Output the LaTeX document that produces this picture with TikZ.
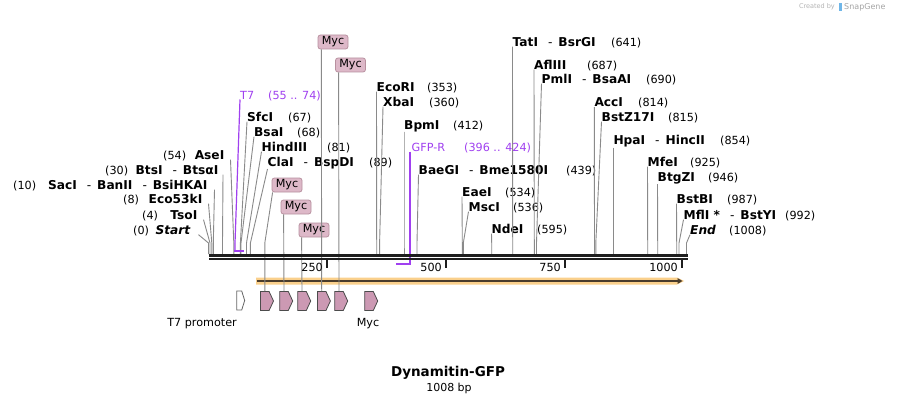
\documentclass[tikz,border=0pt]{standalone}
\usepackage{fontspec}
\setmainfont{DejaVu Sans}
\usetikzlibrary{shapes.symbols,arrows.meta}
\definecolor{cutgray}{HTML}{8A8A8A}
\definecolor{primerpurple}{HTML}{A040F0}
\definecolor{mycfill}{HTML}{CC99B3}
\definecolor{mycboxfill}{HTML}{DDB8C8}
\definecolor{mycboxline}{HTML}{B8909F}
\definecolor{orfband}{HTML}{FAD08C}
\definecolor{orfline}{HTML}{4A3C2C}
\definecolor{seqblack}{HTML}{1E1E1E}
\definecolor{wmgray}{HTML}{B4B4B4}
\definecolor{wmblue}{HTML}{6FB6E8}
\tikzset{
  enz/.style={inner sep=0pt, font=\fontsize{12.2}{14}\selectfont\bfseries},
  num/.style={inner sep=0pt, font=\fontsize{11.2}{13}\selectfont},
  cutline/.style={draw=cutgray, line width=0.9pt},
  primertext/.style={inner sep=0pt, text=primerpurple, font=\fontsize{11.2}{13}\selectfont},
  primerline/.style={draw=primerpurple, line width=1.2pt},
  primerbar/.style={draw=primerpurple, line width=2.5pt},
  mycbox/.style={draw=mycboxline, fill=mycboxfill, rounded corners=2.5pt, minimum width=30pt, minimum height=14pt, inner sep=0pt, font=\fontsize{11.2}{13}\selectfont, line width=0.8pt},
  featarrow/.style={shape=signal, signal to=east, signal pointer angle=130, minimum width=13pt, minimum height=19pt, inner sep=0pt, draw=black!70, line width=0.8pt, fill=mycfill},
  promarrow/.style={shape=signal, signal to=east, signal pointer angle=145, minimum width=8pt, minimum height=19pt, inner sep=0pt, draw=black!60, line width=0.8pt, fill=white},
  seqline/.style={draw=seqblack},
  tickline/.style={draw=seqblack, line width=2pt},
  featlabel/.style={inner sep=0pt, font=\fontsize{11.2}{13}\selectfont},
}
\newcommand\dsh{\hspace{10pt}{\mdseries -}\hspace{6pt}}
\newcommand\renz[7]{%
  \node[enz,anchor=base west] (n#1) at (#2,#3) {#4};
  \node[num,anchor=base west] (m#1) at (#5,#3) {#6};
  \coordinate (k#1) at (#7,243);
  \coordinate (s#1) at (#7,254);
  \draw[cutline] (n#1.south west) -- (k#1) -- (s#1);}
\newcommand\lenz[8]{%
  \node[enz,anchor=base east] (n#1) at (#2,#3) {#4};
  \node[num,anchor=base west] (m#1) at (#5,#3) {#6};
  \coordinate (k#1) at (#7,243);
  \coordinate (s#1) at (#7,254);
  \draw[cutline] ([xshift=#8pt]n#1.south east) -- (k#1) -- (s#1);}
\begin{document}
\begin{tikzpicture}[x=1pt,y=-1pt]
\useasboundingbox (0,0) rectangle (897,404);
\fill[white] (0,0) rectangle (897,404);

% watermark
\node[inner sep=0pt, anchor=east, text=wmgray, font=\fontsize{6.5}{7}\selectfont] (wm1) at (835,7) {Created by};
\fill[wmblue] (838.5,3) rectangle (842,11.5);
\node[inner sep=0pt, anchor=west, text=wmgray!120, font=\fontsize{8}{9}\selectfont] (wm2) at (844,7) {SnapGene};

% ORF band
\fill[orfband] (256,277.5) -- (677,277.5) -- (684,281) -- (677,284.5) -- (256,284.5) -- cycle;
\coordinate (orfL) at (257,281);
\coordinate (orfR) at (682.5,281);
\draw[orfline, line width=1.8pt, -{Triangle[length=5pt,width=5.5pt]}] (orfL) -- (orfR);

% left-side enzymes
\lenz{Start}{190.5}{234.3}{\itshape Start}{133}{(0)}{208.5}{8}
\lenz{TsoI}{197.5}{219.3}{TsoI}{142}{(4)}{210}{6}
\lenz{Eco}{202.5}{203.3}{Eco53kI}{123}{(8)}{211.8}{6}
\lenz{SacI}{207.5}{189.3}{SacI\dsh BanII\dsh BsiHKAI}{13}{(10)}{213.3}{7}
\lenz{BtsI}{218.5}{174.3}{BtsI\dsh BtsαI}{105}{(30)}{222.5}{4.5}
\lenz{AseI}{224.5}{159.3}{AseI}{163}{(54)}{233.8}{6}

% right-side enzymes
\renz{SfcI}{247}{121.3}{SfcI}{288}{(67)}{240.4}
\renz{BsaI}{254}{136.3}{BsaI}{297}{(68)}{241}
\renz{Hind}{261.5}{151.3}{HindIII}{327}{(81)}{246.5}
\renz{ClaI}{267.5}{166.3}{ClaI\dsh BspDI}{369}{(89)}{250.4}
\renz{EcoRI}{376.5}{91.3}{EcoRI}{427}{(353)}{376.7}
\renz{XbaI}{383}{106.3}{XbaI}{429}{(360)}{379.6}
\renz{BpmI}{404}{129}{BpmI}{453}{(412)}{404}
\renz{BaeGI}{418.5}{174.3}{BaeGI\dsh Bme1580I}{566}{(439)}{417}
\renz{EaeI}{462}{196.3}{EaeI}{505}{(534)}{462.3}
\renz{MscI}{468.5}{211.3}{MscI}{513}{(536)}{463.3}
\renz{NdeI}{491.5}{233.3}{NdeI}{537}{(595)}{491.7}
\renz{TatI}{512.5}{46.3}{TatI\dsh BsrGI}{611}{(641)}{512.7}
\renz{Afl}{534}{69.3}{AflIII}{587}{(687)}{534.3}
\renz{PmlI}{541.5}{83.3}{PmlI\dsh BsaAI}{646}{(690)}{536.5}
\renz{AccI}{594.3}{106.8}{AccI}{638}{(814)}{594.5}
\renz{BstZ}{601.5}{121.3}{BstZ17I}{668}{(815)}{595.8}
\renz{HpaI}{613.3}{144.8}{HpaI\dsh HincII}{720}{(854)}{613.3}
\renz{MfeI}{647.5}{166.3}{MfeI}{690}{(925)}{647.7}
\renz{BtgZI}{657.5}{181.3}{BtgZI}{708}{(946)}{657.7}
\renz{BstBI}{676.5}{203.3}{BstBI}{727}{(987)}{676.7}
\renz{MflI}{683.5}{219.3}{MflI *\dsh BstYI}{785}{(992)}{679}
\renz{End}{690}{234.3}{\itshape End}{729}{(1008)}{686.5}

% Myc features
\node[featarrow] (myc1) at (264.8,301) {};
\node[featarrow] (myc2) at (284,301) {};
\node[featarrow] (myc3) at (302,301) {};
\node[featarrow] (myc4) at (321.7,301) {};
\node[featarrow] (myc5) at (339,301) {};
\node[featarrow] (myc6) at (369,301) {};
\node[promarrow] (t7p) at (239.2,300.5) {};
\node[featlabel] (t7plab) at (202,323.5) {T7 promoter};
\node[featlabel] (myc6lab) at (368,323.5) {Myc};

% Myc labels and lines
\node[mycbox] (mb1) at (287,185) {Myc};
\node[mycbox] (mb2) at (296,207) {Myc};
\node[mycbox] (mb3) at (314,230) {Myc};
\node[mycbox] (mb4) at (333,42) {Myc};
\node[mycbox] (mb5) at (350.5,65) {Myc};
\coordinate (mk1) at (264.8,243);
\draw[cutline] ([xshift=1pt]mb1.south west) -- (mk1) -- (myc1.north);
\draw[cutline] ([xshift=3pt]mb2.south west) -- (myc2.north);
\draw[cutline] ([xshift=3pt]mb3.south west) -- (myc3.north);
\draw[cutline] ([xshift=3.7pt]mb4.south west) -- (myc4.north);
\draw[cutline] ([xshift=3.5pt]mb5.south west) -- (myc5.north);

% primers
\node[primertext, anchor=base west] (t7lab) at (240,99.3) {T7};
\node[primertext, anchor=base west] (t7num) at (268,99.3) {(55 .. 74)};
\coordinate (t7k) at (235,243);
\coordinate (t7a) at (235,251);
\coordinate (t7b) at (244,251);
\draw[primerline] (t7lab.south west) -- (t7k) -- (t7a);
\draw[primerbar] ([xshift=-0.6pt]t7a) -- (t7b);

\node[primertext, anchor=base west] (gfplab) at (411.5,151.3) {GFP-R};
\node[primertext, anchor=base west] (gfpnum) at (464,151.3) {(396 .. 424)};
\coordinate (gfpk) at (410,264);
\coordinate (gfpb) at (396,264);
\draw[primerline] ([xshift=-1.5pt]gfplab.south west) -- (gfpk);
\draw[primerbar] ([xshift=0.6pt]gfpk) -- (gfpb);

% sequence
\coordinate (seqL1) at (209,255.5);
\coordinate (seqR1) at (687.5,255.5);
\coordinate (seqL2) at (209,259.3);
\coordinate (seqR2) at (687.5,259.3);
\draw[seqline, line width=3pt] (seqL1) -- (seqR1);
\draw[seqline, line width=2pt] (seqL2) -- (seqR2);

% ticks
\coordinate (ta250) at (326.7,259); \coordinate (tb250) at (326.7,268);
\coordinate (ta500) at (445.7,259); \coordinate (tb500) at (445.7,268);
\coordinate (ta750) at (564.5,259); \coordinate (tb750) at (564.5,268);
\coordinate (ta1000) at (682,259); \coordinate (tb1000) at (682,268);
\draw[tickline] (ta250) -- (tb250);
\draw[tickline] (ta500) -- (tb500);
\draw[tickline] (ta750) -- (tb750);
\draw[tickline] (ta1000) -- (tb1000);
\node[num, anchor=east] (l250) at (323,267.5) {250};
\node[num, anchor=east] (l500) at (442,267.5) {500};
\node[num, anchor=east] (l750) at (561,267.5) {750};
\node[num, anchor=east] (l1000) at (678,267.5) {1000};

% title
\node[inner sep=0pt, font=\fontsize{13.5}{15}\selectfont\bfseries] (title) at (448,372.5) {Dynamitin-GFP};
\node[inner sep=0pt, font=\fontsize{11}{13}\selectfont] (size) at (449,388) {1008 bp};
\end{tikzpicture}
\end{document}
